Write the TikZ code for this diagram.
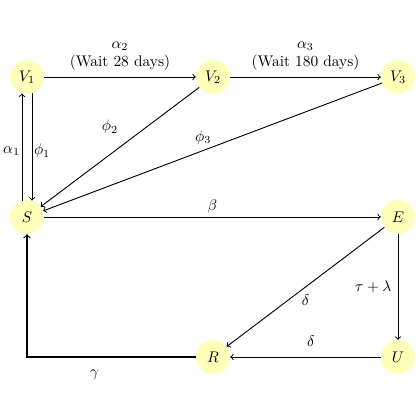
\documentclass[tikz,border=0pt]{standalone}
\usetikzlibrary{arrows}
\definecolor{nodefill}{RGB}{255,255,185}
\tikzset{
  state/.style={circle, fill=nodefill, minimum size=22pt, inner sep=0pt},
  conn/.style={->, semithick},
  lbl/.style={inner sep=2pt}
}
\begin{document}
\begin{tikzpicture}[x=0.65pt,y=-0.65pt]
\useasboundingbox (0,0) rectangle (420,420);
\node[state] (V1) at (27,77) {$V_1$};
\node[state] (V2) at (213,77) {$V_2$};
\node[state] (V3) at (398,77) {$V_3$};
\node[state] (S) at (27,217) {$S$};
\node[state] (E) at (398,217) {$E$};
\node[state] (R) at (213,357) {$R$};
\node[state] (U) at (398,357) {$U$};

\draw[conn] (V1) -- node[above, align=center, lbl, yshift=2pt] {$\alpha_2$\\(Wait 28 days)} (V2);
\draw[conn] (V2) -- node[above, align=center, lbl, yshift=2pt] {$\alpha_3$\\(Wait 180 days)} (V3);
\draw[conn] (S.107) -- node[left, inner sep=1pt, yshift=-2.5pt] {$\alpha_1$} (V1.253);
\draw[conn] (V1.287) -- node[right, inner sep=1pt, yshift=-2.5pt] {$\phi_1$} (S.73);
\draw[conn] (V2) -- node[pos=0.5, xshift=-6.5pt, yshift=13pt] {$\phi_2$} (S);
\draw[conn] (V3) -- node[pos=0.5, xshift=-6pt, yshift=6pt] {$\phi_3$} (S);
\draw[conn] (S) -- node[above, lbl] {$\beta$} (E);
\draw[conn] (E) -- node[pos=0.5, yshift=-8.5pt] {$\delta$} (R);
\draw[conn] (E) -- node[left, lbl, xshift=-2pt] {$\tau + \lambda$} (U);
\draw[conn] (U) -- node[pos=0.5, xshift=3.5pt, yshift=10pt] {$\delta$} (R);
\draw[conn, line width=0.8pt] (R) -| node[below, pos=0.3, lbl, yshift=-6pt] {$\gamma$} (S);
\end{tikzpicture}
\end{document}
